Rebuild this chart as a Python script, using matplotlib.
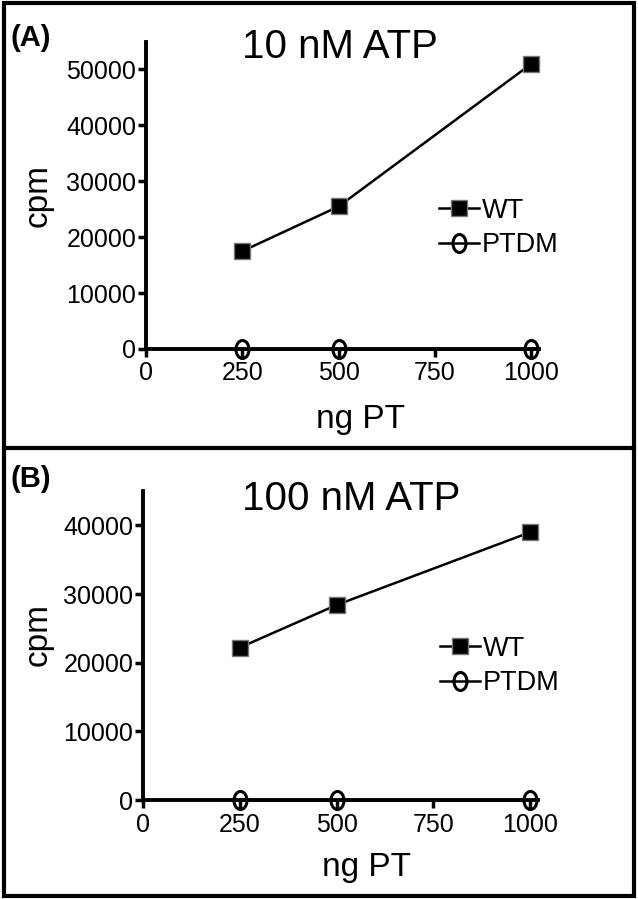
import numpy as np
import matplotlib.pyplot as plt
from matplotlib.patches import Rectangle
from matplotlib.lines import Line2D
from matplotlib.path import Path
from matplotlib.transforms import Affine2D

plt.rcParams["font.family"] = ["Liberation Sans", "DejaVu Sans"]

ng_pt = [250, 500, 1000]
wt_10nM = [17500, 25500, 51000]
ptdm_10nM = [0, 0, 0]
wt_100nM = [22200, 28400, 39000]
ptdm_100nM = [0, 0, 0]

x_ticks = [0, 250, 500, 750, 1000]
y_ticks_a = [0, 10000, 20000, 30000, 40000, 50000]
y_ticks_b = [0, 10000, 20000, 30000, 40000]

W, H = 638, 899
fig = plt.figure(figsize=(W / 100, H / 100), dpi=100)

# tall open circle marker
ellipse = Path.unit_circle().transformed(Affine2D().scale(0.72, 1.0))


def px_axes(left, right, bottom, top):
    return fig.add_axes([left / W, 1 - bottom / H, (right - left) / W, (bottom - top) / H])


def panel(ax, wt, ptdm, yticks, ymax, title, title_xy, xl, cl, leg_xy):
    ax.plot(ng_pt, wt, color="black", lw=1.8, marker="s", ms=11.5,
            mfc="black", mec="#777777", mew=1, clip_on=False, zorder=4, label="WT")
    ax.plot(ng_pt, ptdm, color="black", lw=1.8, marker=ellipse, ms=13,
            mfc="none", mec="black", mew=2.2, clip_on=False, zorder=5, label="PTDM")
    ax.set_xlim(0, 1020)
    ax.set_ylim(0, ymax)
    ax.set_xticks(x_ticks)
    ax.set_yticks(yticks)
    for s in ["top", "right"]:
        ax.spines[s].set_visible(False)
    for s in ["left", "bottom"]:
        ax.spines[s].set_linewidth(2.8)
    ax.tick_params(width=2.5, length=6, labelsize=18, direction="out")
    ax.tick_params(axis="y", pad=1)
    ax.tick_params(axis="x", pad=3)
    ax.set_xlabel("ng PT", fontsize=24)
    ax.xaxis.set_label_coords(*xl)
    ax.xaxis.label.set_verticalalignment("center")
    ax.set_ylabel("cpm", fontsize=24)
    ax.yaxis.set_label_coords(*cl)
    ax.yaxis.label.set_verticalalignment("center")
    ax.text(title_xy[0], title_xy[1], title, transform=ax.transAxes, ha="center",
            va="center", fontsize=29)
    ax.legend(loc="center left", bbox_to_anchor=leg_xy, frameon=False,
              fontsize=19.5, handlelength=1.5, handletextpad=0.1, labelspacing=0.3,
              borderpad=0)
    return ax


ax1 = px_axes(146, 539, 349, 41.5)
panel(ax1, wt_10nM, ptdm_10nM, y_ticks_a, 55000, "10 nM ATP",
      (0.494, (349 - 47) / 307.5), (0.545, -0.23), (-0.275, 0.5),
      (0.71, (349 - 228) / 307.5))
ax2 = px_axes(143, 538, 800, 491)
panel(ax2, wt_100nM, ptdm_100nM, y_ticks_b, 45000, "100 nM ATP",
      (0.526, (800 - 499) / 309), (0.567, -0.217), (-0.266, 0.534),
      (0.717, (800 - 666) / 309))

fig.text(11 / W, 1 - 38 / H, "(A)", fontsize=21, fontweight="bold", va="center")
fig.text(11 / W, 1 - 479 / H, "(B)", fontsize=21, fontweight="bold", va="center")

# panel frames
fig.add_artist(Rectangle((3.5 / W, 3 / H), 630.5 / W, 893 / H, transform=fig.transFigure,
                         fill=False, lw=3, ec="black"))
fig.add_artist(Line2D([3.5 / W, 634 / W], [1 - 447.5 / H] * 2, transform=fig.transFigure,
                      lw=3, color="black"))

fig.savefig("out.png", dpi=100)
